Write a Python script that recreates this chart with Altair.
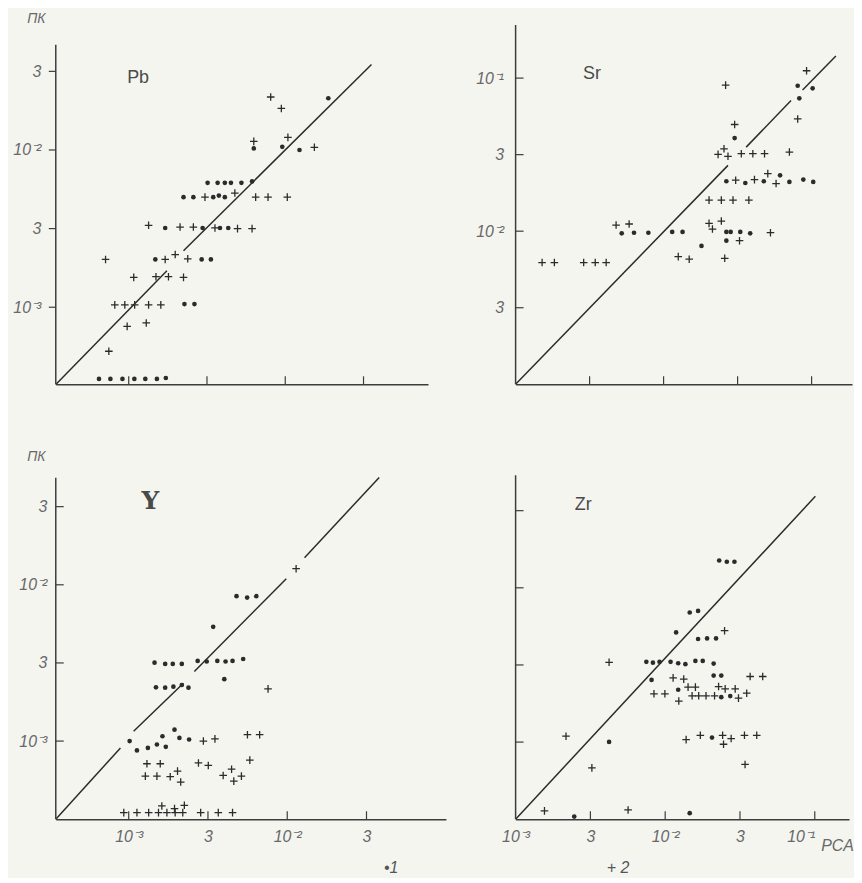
import altair as alt
import pandas as pd

# ---------------- data: log10 of the concentrations (ПК vs РСА) -------------
# Pb
PB_DOT_X = [-3.19, -3.117, -3.04, -2.964, -2.894, -2.82, -2.763, -2.644, -2.58, -2.83, -2.534, -2.475,
            -2.767, -2.528, -2.417, -2.364, -2.65, -2.587, -2.46, -2.424, -2.386, -2.496, -2.432, -2.386,
            -2.347, -2.28, -2.212, -2.201, -2.019, -1.909, -1.725]
PB_DOT_Y = [-3.456, -3.456, -3.456, -3.456, -3.456, -3.456, -3.45, -2.98, -2.98, -2.696, -2.696, -2.696,
            -2.496, -2.496, -2.496, -2.496, -2.30, -2.30, -2.30, -2.29, -2.30, -2.209, -2.209, -2.209,
            -2.209, -2.209, -2.20, -1.99, -1.98, -2.0, -1.671]
PB_CROSS_X = [-2.093, -2.025, -1.983, -2.201, -1.814, -2.322, -2.513, -2.189, -2.11, -1.987, -2.873, -2.672,
              -2.587, -2.449, -2.305, -2.212, -3.148, -2.767, -2.703, -2.623, -2.968, -2.826, -2.746, -2.65,
              -3.089, -3.025, -2.962, -2.873, -2.795, -3.01, -2.888, -3.127]
PB_CROSS_Y = [-1.663, -1.736, -1.92, -1.945, -1.983, -2.274, -2.30, -2.30, -2.30, -2.30, -2.479, -2.49,
              -2.49, -2.496, -2.50, -2.50, -2.696, -2.696, -2.665, -2.692, -2.81, -2.806, -2.806, -2.81,
              -2.985, -2.985, -2.985, -2.985, -2.985, -3.122, -3.10, -3.28]
PB_LINE_X = [[-3.466, -2.756], [-2.65, -1.449]]
PB_LINE_Y = [[-3.492, -2.768], [-2.641, -1.456]]

# Sr
SR_DOT_X = [-2.283, -2.2, -2.103, -1.942, -1.872, -1.744, -1.576, -1.547, -1.482, -1.415, -1.576,
            -1.52, -1.576, -1.448, -1.323, -1.213, -1.15, -1.056, -0.989, -1.094, -1.083, -0.993]
SR_DOT_Y = [-2.014, -2.01, -2.01, -2.005, -2.005, -2.096, -2.005, -2.005, -2.005, -2.014, -2.062,
            -1.392, -1.674, -1.685, -1.674, -1.635, -1.678, -1.663, -1.678, -1.05, -1.132, -1.067]
SR_CROSS_X = [-2.821, -2.738, -2.54, -2.462, -2.388, -2.321, -2.233, -1.901, -1.827, -1.693, -1.61, -1.531,
              -1.424, -1.693, -1.61, -1.67, -1.587, -1.487, -1.278, -1.632, -1.592, -1.565, -1.475, -1.397,
              -1.318, -1.15, -1.513, -1.386, -1.296, -1.24, -1.52, -1.581, -1.094, -1.034]
SR_CROSS_Y = [-2.205, -2.205, -2.205, -2.205, -2.205, -1.96, -1.953, -2.166, -2.183, -1.797, -1.797, -1.797,
              -1.797, -1.949, -1.934, -1.986, -2.177, -2.062, -2.01, -1.498, -1.462, -1.511, -1.494, -1.494,
              -1.494, -1.483, -1.667, -1.663, -1.624, -1.689, -1.303, -1.046, -1.267, -0.952]
SR_LINE_X = [[-3.0, -1.565], [-1.442, -1.139], [-1.061, -0.836]]
SR_LINE_Y = [[-3.0, -1.570], [-1.451, -1.147], [-1.078, -0.855]]

# Y
Y_DOT_X = [-2.32, -2.253, -2.195, -2.467, -2.837, -2.77, -2.722, -2.665, -2.565, -2.508, -2.441, -2.389,
           -2.345, -2.278, -2.397, -2.828, -2.77, -2.718, -2.665, -2.623, -2.994, -2.948, -2.879, -2.822,
           -2.787, -2.766, -2.711, -2.68, -2.619]
Y_DOT_Y = [-2.073, -2.082, -2.073, -2.269, -2.498, -2.506, -2.506, -2.506, -2.487, -2.491, -2.487, -2.491,
           -2.487, -2.475, -2.604, -2.656, -2.658, -2.652, -2.641, -2.658, -3.0, -3.06, -3.044, -3.022,
           -2.969, -3.037, -2.927, -2.98, -2.99]
Y_CROSS_X = [-1.944, -2.121, -2.529, -2.456, -2.251, -2.174, -2.236, -2.885, -2.801, -2.56, -2.498,
             -2.895, -2.822, -2.738, -2.692, -2.672, -2.404, -2.351, -2.337, -2.289, -3.031, -2.948,
             -2.874, -2.812, -2.759, -2.707, -2.659, -2.791, -2.711, -2.649, -2.546, -2.435, -2.345]
Y_CROSS_Y = [-1.897, -2.666, -3.0, -2.986, -2.959, -2.959, -3.122, -3.145, -3.145, -3.14, -3.156,
             -3.224, -3.224, -3.228, -3.192, -3.262, -3.22, -3.18, -3.256, -3.224, -3.458, -3.458,
             -3.458, -3.458, -3.458, -3.458, -3.458, -3.415, -3.432, -3.411, -3.458, -3.458, -3.458]
Y_LINE_X = [[-3.46, -3.052], [-2.969, -2.655], [-2.586, -2.006], [-1.891, -1.42]]
Y_LINE_Y = [[-3.5, -3.044], [-2.937, -2.63], [-2.555, -1.961], [-1.827, -1.313]]

# Zr
ZR_DOT_X = [-1.639, -1.588, -1.537, -1.836, -1.78, -1.927, -1.78, -1.72, -1.66, -2.126, -2.082, -2.038,
            -1.964, -1.913, -1.865, -1.798, -1.749, -1.676, -2.091, -1.676, -1.625, -1.913, -1.625,
            -1.565, -2.375, -1.687, -2.608, -1.836]
ZR_DOT_Y = [-1.323, -1.331, -1.331, -1.66, -1.65, -1.789, -1.832, -1.828, -1.828, -1.98, -1.985, -1.98,
            -1.98, -1.989, -1.995, -1.974, -1.974, -1.991, -2.097, -2.069, -2.069, -2.161, -2.209,
            -2.202, -2.499, -2.471, -2.983, -2.961]
ZR_CROSS_X = [-1.603, -2.375, -1.947, -1.876, -1.847, -1.798, -1.643, -1.599, -1.532, -1.432, -1.348,
              -2.075, -2.002, -1.909, -1.82, -1.776, -1.727, -1.67, -1.51, -1.455, -1.86, -1.765, -1.616,
              -1.61, -1.559, -1.47, -1.388, -1.466, -2.663, -2.49, -2.807, -2.248]
ZR_CROSS_Y = [-1.778, -1.983, -2.084, -2.092, -2.144, -2.144, -2.14, -2.155, -2.155, -2.075, -2.075,
              -2.187, -2.187, -2.234, -2.2, -2.2, -2.2, -2.2, -2.215, -2.183, -2.484, -2.456, -2.456,
              -2.514, -2.477, -2.456, -2.456, -2.645, -2.462, -2.667, -2.946, -2.94]
ZR_LINE_X = [[-3.0, -0.996]]
ZR_LINE_Y = [[-3.0, -0.907]]

# tick positions (log10) and their labels
TICK_LEFT = [-3.0, -2.5, -2.0, -1.5]
TICK_RIGHT = [-2.5, -2.0, -1.5, -1.0]
LAB_LEFT = ["10⁻³", "3", "10⁻²", "3"]
LAB_SR_Y = ["3", "10⁻²", "3", "10⁻¹"]
XLAB_ZR_VALS = [-3.0, -2.5, -2.0, -1.5, -1.0]
XLAB_ZR = ["10⁻³", "3", "10⁻²", "3", "10⁻¹"]

INK = "#2b2b2b"
AXIS_INK = "#3c3c3c"
LABEL_INK = "#686868"
FONT = "Liberation Sans"
PLUS = "M-1,0L1,0M0,-1L0,1"
TICK_FONT_SIZE = 16


def lab_expr(vals, labs):
    parts = [f"abs(log(datum.value)/LN10 - ({v})) < 0.01 ? '{l}'" for v, l in zip(vals, labs)]
    return " : ".join(parts) + " : ''"


def panel(p):
    W, H = p["w"], p["h"]
    xs = alt.Scale(type="log", domain=[10 ** p["xdom"][0], 10 ** p["xdom"][1]], nice=False, zero=False)
    ys = alt.Scale(type="log", domain=[10 ** p["ydom"][0], 10 ** p["ydom"][1]], nice=False, zero=False)

    xa = dict(domain=True, domainColor=AXIS_INK, domainWidth=1.5, ticks=False, grid=False)
    if p.get("xlabs"):
        vals, labs = p["xlabs"]
        xa.update(values=[10 ** v for v in vals], labelExpr=lab_expr(vals, labs), labelPadding=9,
                  labelFont=FONT, labelFontStyle="italic", labelFontSize=TICK_FONT_SIZE,
                  labelColor=LABEL_INK, labelFlush=False, labelOverlap=False)
        if p.get("last_label_right"):
            xa.update(labelAlign={"condition": {"test": "datum.value > 0.05", "value": "right"},
                                  "value": "center"})
    else:
        xa.update(labels=False)
    if p.get("xtitle"):
        xa.update(title=p["xtitle"], titleX=p["xtitle_x"], titleY=p["xtitle_y"], titleAlign="center",
                  titleBaseline="alphabetic", titleFont=FONT, titleFontStyle="italic",
                  titleFontWeight="normal", titleFontSize=TICK_FONT_SIZE, titleColor=LABEL_INK)
    else:
        xa.update(title="")

    ya = dict(domain=False, ticks=False, grid=False)
    if p.get("ylabs"):
        vals, labs = p["ylabs"]
        ya.update(values=[10 ** v for v in vals], labelExpr=lab_expr(vals, labs),
                  labelPadding=p["ylabpad"], labelFont=FONT, labelFontStyle="italic",
                  labelFontSize=TICK_FONT_SIZE, labelColor=LABEL_INK, labelFlush=False,
                  labelOverlap=False)
    else:
        ya.update(labels=False)
    if p.get("ytitle"):
        ya.update(title=p["ytitle"], titleAngle=0, titleX=-20, titleY=p["ytitle_y"], titleAlign="center",
                  titleBaseline="alphabetic", titleFont=FONT, titleFontStyle="italic",
                  titleFontWeight="normal", titleFontSize=14, titleColor=LABEL_INK)
    else:
        ya.update(title="")

    X = alt.X("x:Q", scale=xs, axis=alt.Axis(**xa))
    Y = alt.Y("y:Q", scale=ys, axis=alt.Axis(**ya))

    rows = []
    for i, (lx, ly) in enumerate(zip(p["line_x"], p["line_y"])):
        for a, b in zip(lx, ly):
            rows.append({"seg": i, "x": 10 ** a, "y": 10 ** b})
    diag = alt.Chart(pd.DataFrame(rows)).mark_line(color=INK, strokeWidth=1.5).encode(
        x=X, y=Y, detail="seg:N")

    yline = alt.Chart(pd.DataFrame({"x": [10 ** p["xdom"][0]], "y": [10 ** p["ydom"][0]],
                                    "y2": [10 ** p["ytop"]]})).mark_rule(
        color=AXIS_INK, strokeWidth=1.5).encode(x=X, y=Y, y2="y2:Q")

    yt0, yt1 = (-7, 0) if p["ytick_out"] else (0, 8)
    yticks = alt.Chart(pd.DataFrame({"y": [10 ** v for v in p["yticks"]]})).mark_rule(
        color=AXIS_INK, strokeWidth=1.2).encode(y=Y, x=alt.value(yt0), x2=alt.value(yt1))
    xticks = alt.Chart(pd.DataFrame({"x": [10 ** v for v in p["xticks"]]})).mark_rule(
        color=AXIS_INK, strokeWidth=1.2).encode(x=X, y=alt.value(H), y2=alt.value(H - 8))

    dots = alt.Chart(pd.DataFrame({"x": [10 ** v for v in p["dot_x"]],
                                   "y": [10 ** v for v in p["dot_y"]]})).mark_point(
        shape="circle", filled=True, size=22, color=INK, opacity=1).encode(x=X, y=Y)
    crosses = alt.Chart(pd.DataFrame({"x": [10 ** v for v in p["cross_x"]],
                                      "y": [10 ** v for v in p["cross_y"]]})).mark_point(
        shape=PLUS, filled=False, size=58, strokeWidth=1.3, color=INK, opacity=1).encode(x=X, y=Y)

    name = alt.Chart(pd.DataFrame({"x": [10 ** p["name_pos"][0]], "y": [10 ** p["name_pos"][1]],
                                   "t": [p["name"]]})).mark_text(
        font=p.get("name_font", FONT), fontSize=p.get("name_size", 18),
        fontWeight=p.get("name_weight", "normal"), color="#4a4a4a", align="center",
        baseline="middle").encode(x=X, y=Y, text="t:N")

    layers = [diag, yline, yticks, xticks, dots, crosses, name]
    if p.get("legend"):
        lt, lx, ly = p["legend"]
        layers.append(alt.Chart(pd.DataFrame({"t": [lt]})).mark_text(
            font=FONT, fontSize=16, fontStyle="italic", color="#555555", align="center",
            baseline="alphabetic").encode(x=alt.value(lx), y=alt.value(ly), text="t:N"))
    return alt.layer(*layers).properties(width=W, height=H)


pb = panel(dict(w=374, h=361, xdom=(-3.466, -1.088), ydom=(-3.49, -1.205), ytop=-1.33,
                xticks=TICK_LEFT, yticks=TICK_LEFT, ytick_out=True, ylabs=(TICK_LEFT, LAB_LEFT),
                ylabpad=15, ytitle="ПК", ytitle_y=-2,
                line_x=PB_LINE_X, line_y=PB_LINE_Y, dot_x=PB_DOT_X, dot_y=PB_DOT_Y,
                cross_x=PB_CROSS_X, cross_y=PB_CROSS_Y, name="Pb", name_pos=(-2.94, -1.544)))
sr = panel(dict(w=338, h=361, xdom=(-3.0, -0.727), ydom=(-3.0, -0.653), ytop=-0.653,
                xticks=TICK_RIGHT, yticks=TICK_RIGHT, ytick_out=False, ylabs=(TICK_RIGHT, LAB_SR_Y),
                ylabpad=12,
                line_x=SR_LINE_X, line_y=SR_LINE_Y, dot_x=SR_DOT_X, dot_y=SR_DOT_Y,
                cross_x=SR_CROSS_X, cross_y=SR_CROSS_Y, name="Sr", name_pos=(-2.484, -0.974)))
yy = panel(dict(w=392, h=350, xdom=(-3.46, -0.999), ydom=(-3.5, -1.271), ytop=-1.315,
                xticks=TICK_LEFT, yticks=TICK_LEFT, ytick_out=False, ylabs=(TICK_LEFT, LAB_LEFT),
                ylabpad=9, ytitle="ПК", ytitle_y=-10, xlabs=(TICK_LEFT, LAB_LEFT),
                line_x=Y_LINE_X, line_y=Y_LINE_Y, dot_x=Y_DOT_X, dot_y=Y_DOT_Y,
                cross_x=Y_CROSS_X, cross_y=Y_CROSS_Y, name="Y", name_pos=(-2.864, -1.462),
                name_font="DejaVu Serif", name_size=25, name_weight="bold",
                legend=("•1", 337, 404)))
zr = panel(dict(w=335, h=350, xdom=(-3.0, -0.771), ydom=(-3.0, -0.742), ytop=-0.77,
                xticks=TICK_RIGHT, yticks=TICK_RIGHT, ytick_out=False,
                xlabs=(XLAB_ZR_VALS, XLAB_ZR), last_label_right=True,
                xtitle="PCA", xtitle_x=323, xtitle_y=31,
                line_x=ZR_LINE_X, line_y=ZR_LINE_Y, dot_x=ZR_DOT_X, dot_y=ZR_DOT_Y,
                cross_x=ZR_CROSS_X, cross_y=ZR_CROSS_Y, name="Zr", name_pos=(-2.548, -0.961),
                legend=("+ 2", 103, 404)))

chart = alt.concat(pb, sr, yy, zr, columns=2, spacing=alt.RowColnumber(row=87, column=70),
                   bounds="flush").properties(
    padding={"left": 4, "top": 2, "right": 0, "bottom": 0},
    background="#f5f5f0",
).configure_view(stroke=None)

chart.save("out.html", embed_options={"renderer": "svg", "actions": False})
